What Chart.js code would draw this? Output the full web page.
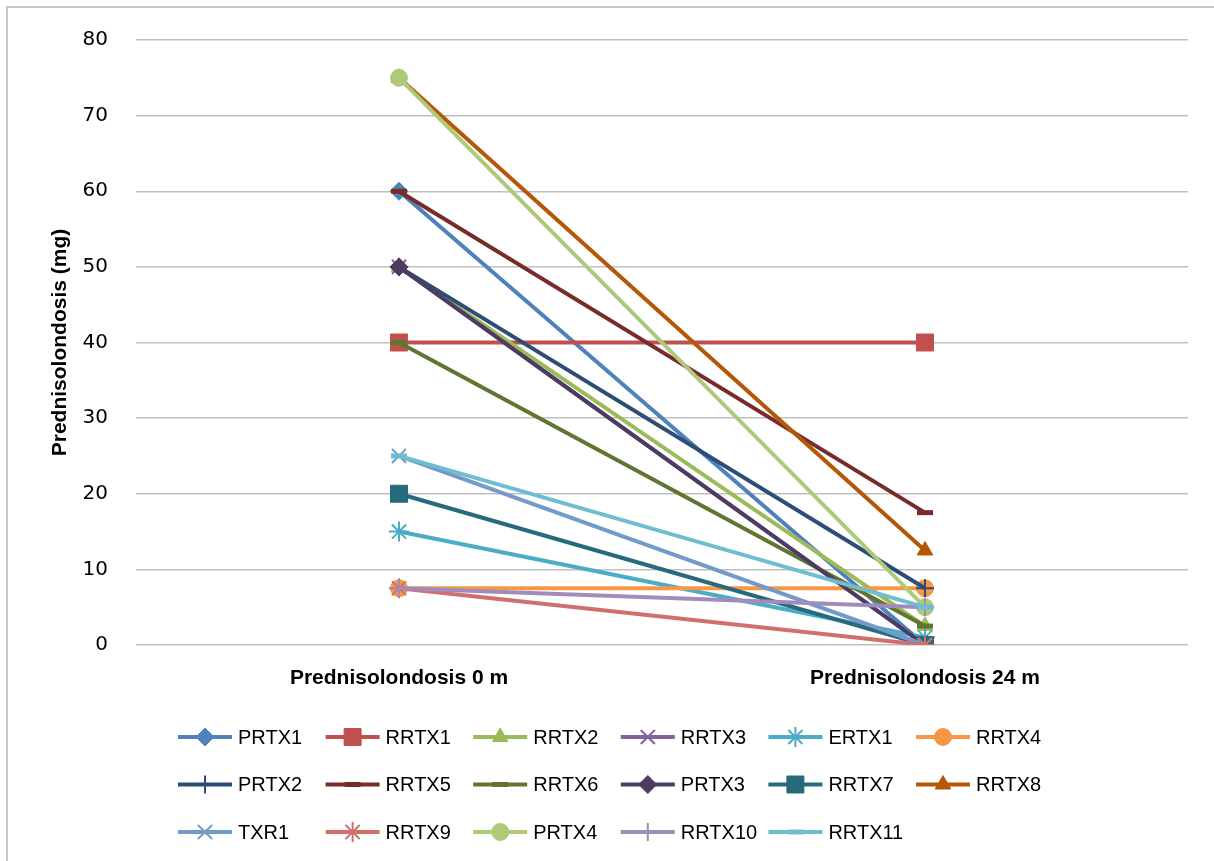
<!DOCTYPE html>
<html>
<head>
<meta charset="utf-8">
<script src="https://cdn.jsdelivr.net/npm/chart.js@4.4.0/dist/chart.umd.min.js"></script>
<style>
  html, body { margin: 0; padding: 0; background: #fff; }
  #wrap { width: 1214px; height: 861px; position: relative; }
</style>
</head>
<body>
<div id="wrap"><canvas id="c" width="1214" height="861"></canvas></div>
<script>
// chart data
const categories = ['Prednisolondosis 0 m', 'Prednisolondosis 24 m'];
const seriesNames = ['PRTX1','RRTX1','RRTX2','RRTX3','ERTX1','RRTX4',
                     'PRTX2','RRTX5','RRTX6','PRTX3','RRTX7','RRTX8',
                     'TXR1','RRTX9','PRTX4','RRTX10','RRTX11'];
const dose0m  = [60, 40, 50, 50, 15, 7.5, 50, 60, 40, 50, 20, 75, 25, 7.5, 75, 7.5, 25];
const dose24m = [0, 40, 2.5, 0, 1, 7.5, 7.5, 17.5, 2.5, 0, 0, 12.5, 0, 0, 5, 5, 5];
const yTicks = [0, 10, 20, 30, 40, 50, 60, 70, 80];

// styles
const colors = ['#4F81BD','#C0504D','#9BBB59','#8064A2','#4BACC6','#F79646',
                '#2C4D75','#772C2A','#5F7530','#4D3B62','#276A7C','#B65708',
                '#729ACA','#D0706E','#AFC97A','#A08CBB','#6FBDD1'];
const markers = ['rectRot','rect','triangle','crossRot','star','circle',
                 'cross','line','line','rectRot','rect','triangle',
                 'crossRot','star','circle','cross','line'];
const markerSize = {rectRot: 9, rect: 12, triangle: 9, crossRot: 10, star: 10, circle: 8.5, cross: 9, line: 8};
const stroked = {crossRot: true, star: true, cross: true, line: true};

const datasets = seriesNames.map((name, i) => ({
  label: name,
  data: [dose0m[i], dose24m[i]],
  order: seriesNames.length - i, // later series painted on top, like the original
  borderColor: colors[i],
  backgroundColor: colors[i],
  borderWidth: 4,
  pointStyle: markers[i],
  pointRadius: markerSize[markers[i]],
  pointHoverRadius: markerSize[markers[i]],
  pointBorderWidth: markers[i] === 'line' ? 5 : (stroked[markers[i]] ? 2 : 1),
  tension: 0
}));

// grid-style legend drawn under the plot, plus the frame edge
const extras = {
  id: 'extras',
  beforeDraw(chart) {
    const ctx = chart.ctx;
    ctx.save();
    ctx.strokeStyle = '#c6c6c6';
    ctx.lineWidth = 2;
    ctx.beginPath();
    ctx.moveTo(7, 900); ctx.lineTo(7, 7); ctx.lineTo(1300, 7);
    ctx.stroke();
    ctx.restore();
  },
  afterDraw(chart) {
    const ctx = chart.ctx;
    ctx.save();
    chart.data.datasets.forEach((ds, i) => {
      const col = i % 6, row = Math.floor(i / 6);
      const x0 = 178 + col * 147.6;
      const y = 737 + row * 47.5;
      ctx.strokeStyle = ds.borderColor;
      ctx.lineWidth = 4;
      ctx.beginPath();
      ctx.moveTo(x0, y); ctx.lineTo(x0 + 54, y);
      ctx.stroke();
      ctx.fillStyle = ds.backgroundColor;
      ctx.strokeStyle = ds.borderColor;
      ctx.lineWidth = ds.pointBorderWidth;
      Chart.helpers.drawPoint(ctx, {pointStyle: ds.pointStyle, radius: ds.pointRadius, rotation: 0, borderWidth: ds.pointBorderWidth}, x0 + 27, y);
      ctx.fillStyle = '#000';
      ctx.font = '20px "Liberation Sans", Arial, sans-serif';
      ctx.textBaseline = 'middle';
      ctx.textAlign = 'left';
      ctx.fillText(ds.label, x0 + 60, y + 1);
    });
    ctx.restore();
  }
};

new Chart(document.getElementById('c'), {
  type: 'line',
  data: { labels: categories, datasets },
  plugins: [extras],
  options: {
    responsive: false,
    animation: false,
    layout: { padding: { top: 38, right: 26, left: 0, bottom: 0 } },
    plugins: { legend: { display: false }, tooltip: { enabled: false } },
    scales: {
      x: {
        offset: true,
        grid: { display: false, drawTicks: false },
        border: { display: false },
        ticks: { color: '#000', padding: 21, font: { family: '"Liberation Sans", Arial, sans-serif', size: 21, weight: 'bold' } },
        afterFit(scale) { scale.height = 216; }
      },
      y: {
        min: 0, max: 80,
        afterBuildTicks(scale) { scale.ticks = yTicks.map(v => ({ value: v })); },
        grid: { color: '#c0c0c0', lineWidth: 1.5, drawTicks: false },
        border: { display: false },
        ticks: { color: '#000', padding: 28, font: { family: '"DejaVu Sans", sans-serif', size: 20 } },
        title: {
          display: true,
          text: 'Prednisolondosis (mg)',
          color: '#000',
          padding: { top: 48, bottom: 0 },
          font: { family: '"Liberation Sans", Arial, sans-serif', size: 21, weight: 'bold' }
        },
        afterFit(scale) { scale.width = 136; }
      }
    }
  }
});
</script>
</body>
</html>
